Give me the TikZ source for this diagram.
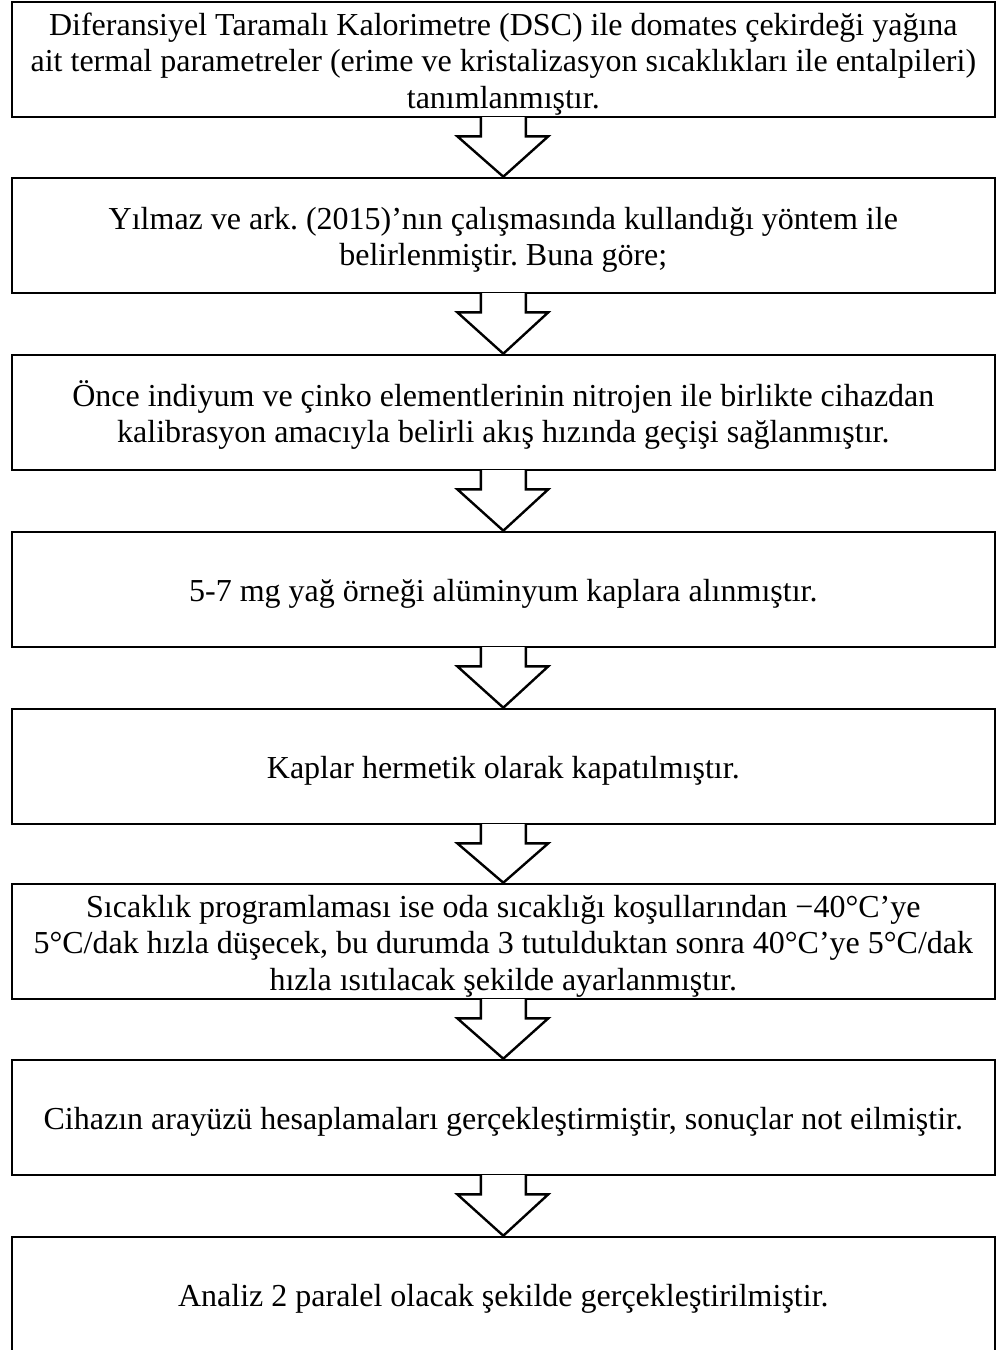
\documentclass[tikz,border=0pt]{standalone}
\usepackage{fontspec}
\setmainfont{Liberation Serif}
\usetikzlibrary{calc}
\frenchspacing
% taller first line so every label sits a little low in its box
\newcommand{\stepstrut}{\rule{0pt}{31pt}}
\begin{document}
\begin{tikzpicture}[x=1pt,y=-1pt,
  stepbox/.style={draw=black, line width=2.6pt, fill=white,
    minimum width=983pt, minimum height=115pt, inner sep=0pt,
    align=center, font=\fontsize{32}{36.5}\selectfont},
  arrowline/.style={draw=black, line width=2.4pt, line join=miter},
]
\useasboundingbox (0,0) rectangle (1004,1350);

\node[stepbox] (b1) at (503.3,59.5) {\stepstrut Diferansiyel Taramalı Kalorimetre (DSC) ile domates çekirdeği yağına\\ait termal parametreler (erime ve kristalizasyon sıcaklıkları ile entalpileri)\\tanımlanmıştır.};
\node[stepbox] (b2) at (503.3,235.5) {\stepstrut Yılmaz ve ark. (2015)’nın çalışmasında kullandığı yöntem ile\\belirlenmiştir. Buna göre;};
\node[stepbox] (b3) at (503.3,412.5) {\stepstrut Önce indiyum ve çinko elementlerinin nitrojen ile birlikte cihazdan\\kalibrasyon amacıyla belirli akış hızında geçişi sağlanmıştır.};
\node[stepbox] (b4) at (503.3,589.5) {\stepstrut 5-7 mg yağ örneği alüminyum kaplara alınmıştır.};
\node[stepbox] (b5) at (503.3,766.5) {\stepstrut Kaplar hermetik olarak kapatılmıştır.};
\node[stepbox] (b6) at (503.3,941.5) {\stepstrut Sıcaklık programlaması ise oda sıcaklığı koşullarından −40°C’ye\\5°C/dak hızla düşecek, bu durumda 3 tutulduktan sonra 40°C’ye 5°C/dak\\hızla ısıtılacak şekilde ayarlanmıştır.};
\node[stepbox] (b7) at (503.3,1117.5) {\stepstrut Cihazın arayüzü hesaplamaları gerçekleştirmiştir, sonuçlar not eilmiştir.};
\node[stepbox] (b8) at (503.3,1294.5) {\stepstrut Analiz 2 paralel olacak şekilde gerçekleştirilmiştir.};

% hollow block arrows between consecutive steps
\foreach \u/\v in {b1/b2,b2/b3,b3/b4,b4/b5,b5/b6,b6/b7,b7/b8}{
  \fill[white] ($(\u.south)+(-22.5,-1.3)$) -- ($(\u.south)+(-22.5,18)$) -- ($(\u.south)+(-46,18)$)
     -- (\v.north) -- ($(\u.south)+(45,18)$) -- ($(\u.south)+(22.5,18)$) -- ($(\u.south)+(22.5,-1.3)$) -- cycle;
  \draw[arrowline] ($(\u.south)+(-22.5,-1.3)$) -- ($(\u.south)+(-22.5,18)$) -- ($(\u.south)+(-46,18)$)
     -- (\v.north) -- ($(\u.south)+(45,18)$) -- ($(\u.south)+(22.5,18)$) -- ($(\u.south)+(22.5,-1.3)$);
}
\end{tikzpicture}
\end{document}
